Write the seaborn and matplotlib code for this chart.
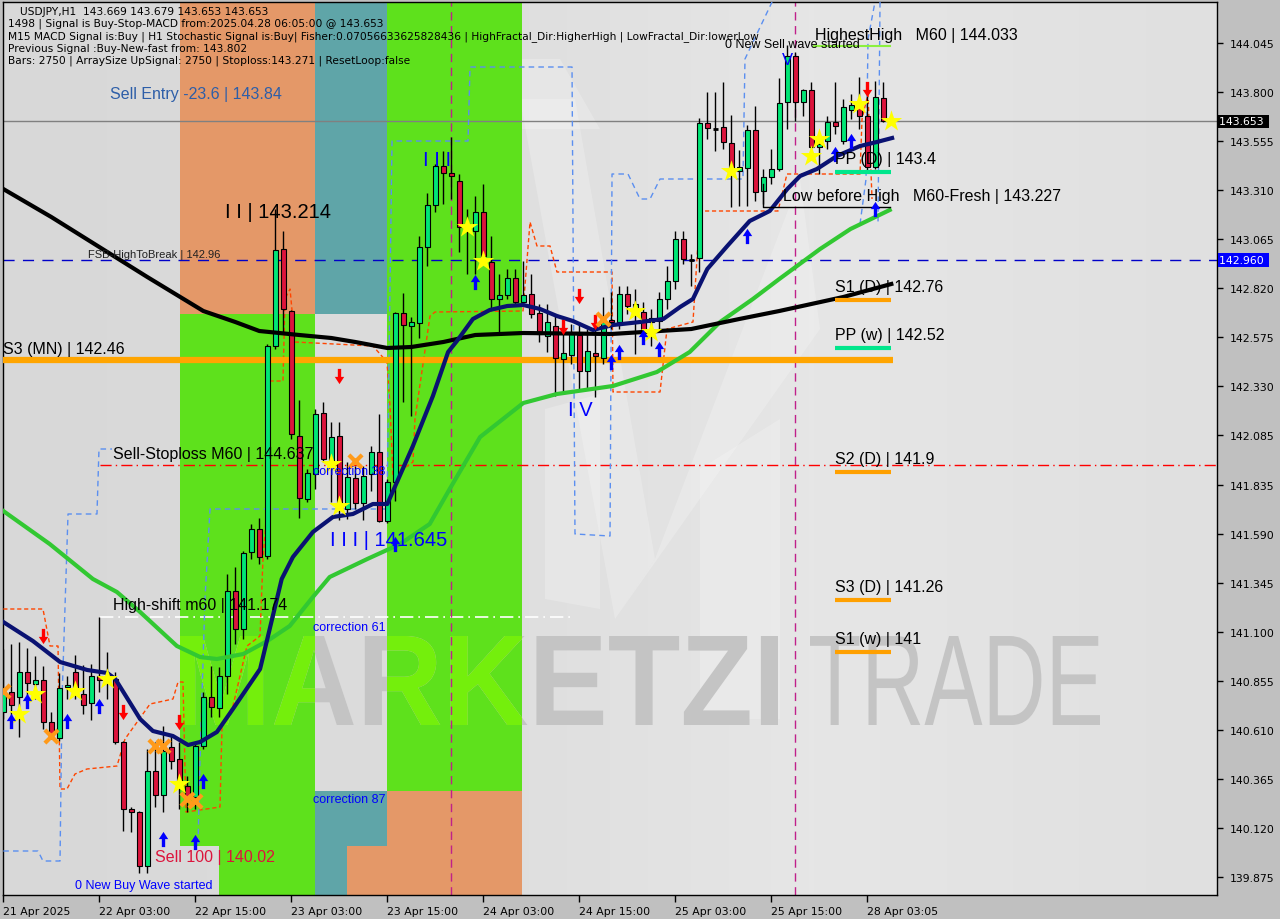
import numpy as np
import matplotlib
matplotlib.use("Agg")
import matplotlib.pyplot as plt
import seaborn as sns
from matplotlib.path import Path
from matplotlib.patches import Rectangle, Polygon, PathPatch
from matplotlib.colors import LinearSegmentedColormap
from matplotlib.textpath import TextPath
from matplotlib.font_manager import FontProperties
import matplotlib.transforms as mtrans

# ------------------------------------------------------------------ DATA
bar_open = [140.700, 140.800, 140.775, 140.900, 140.840, 140.860, 140.650, 140.570, 140.825, 140.900,
            140.790, 140.745, 140.880, 140.875, 140.865, 140.550, 140.215, 140.200, 139.930, 140.405,
            140.285, 140.525, 140.465, 140.330, 140.275, 140.530, 140.775, 140.720, 140.880, 141.305,
            141.115, 141.500, 141.615, 141.480, 142.530, 143.015, 142.705, 142.080, 141.765, 141.890,
            142.195, 141.950, 142.080, 141.715, 141.870, 141.745, 141.890, 142.000, 141.655, 141.850,
            142.695, 142.630, 142.645, 143.025, 143.235, 143.430, 143.395, 143.355, 143.140, 143.105,
            143.200, 142.950, 142.765, 142.785, 142.870, 142.750, 142.790, 142.695, 142.580, 142.630,
            142.465, 142.485, 142.585, 142.405, 142.495, 142.470, 142.660, 142.650, 142.790, 142.705,
            142.700, 142.650, 142.655, 142.765, 142.855, 143.065, 142.962, 142.970, 143.645, 143.619,
            143.625, 143.545, 143.405, 143.420, 143.610, 143.305, 143.375, 143.415, 143.750, 143.980,
            143.750, 143.810, 143.525, 143.555, 143.650, 143.555, 143.710, 143.750, 143.680, 143.425,
            143.770]
bar_high = [141.015, 141.040, 141.050, 141.020, 140.980, 140.930, 140.700, 140.895, 140.880, 140.985,
            140.935, 140.940, 141.175, 141.000, 140.900, 140.555, 140.225, 140.205, 140.515, 140.550,
            140.630, 140.580, 140.550, 140.380, 140.550, 140.800, 140.930, 140.925, 141.390, 141.425,
            141.505, 141.640, 141.670, 142.540, 143.214, 143.105, 142.710, 142.260, 141.915, 142.215,
            142.250, 142.150, 142.150, 141.950, 141.930, 141.930, 142.030, 142.190, 141.865, 142.700,
            142.795, 142.675, 143.080, 143.295, 143.440, 143.505, 143.575, 143.390, 143.215, 143.280,
            143.340, 143.080, 142.890, 142.915, 142.915, 142.955, 142.890, 142.740, 142.740, 142.680,
            142.630, 142.640, 142.650, 142.615, 142.640, 142.775, 142.800, 142.830, 142.830, 142.815,
            142.750, 142.715, 142.800, 142.930, 143.105, 143.105, 142.990, 143.670, 143.800, 143.800,
            143.850, 143.685, 143.510, 143.635, 143.730, 143.415, 143.515, 143.870, 144.033, 144.000,
            143.815, 143.850, 143.590, 143.680, 143.850, 143.765, 143.790, 143.875, 143.780, 143.855,
            143.850]
bar_low = [140.665, 140.630, 140.575, 140.780, 140.765, 140.615, 140.565, 140.555, 140.765, 140.765,
           140.690, 140.660, 140.800, 140.765, 140.540, 140.105, 140.100, 139.895, 139.895, 140.225,
           140.200, 140.415, 140.215, 140.200, 140.215, 140.515, 140.675, 140.675, 140.790, 141.040,
           141.065, 141.465, 141.440, 141.465, 142.515, 142.600, 142.065, 141.670, 141.750, 141.815,
           141.950, 141.750, 141.660, 141.665, 141.715, 141.660, 141.805, 141.650, 141.645, 141.755,
           142.250, 142.180, 142.570, 142.930, 143.200, 143.240, 143.265, 143.000, 142.890, 142.890,
           142.955, 142.715, 142.600, 142.765, 142.740, 142.740, 142.670, 142.550, 142.500, 142.280,
           142.300, 142.440, 142.315, 142.315, 142.275, 142.440, 142.615, 142.615, 142.690, 142.490,
           142.565, 142.530, 142.615, 142.715, 142.815, 142.940, 142.830, 142.900, 143.565, 143.505,
           143.515, 143.225, 143.230, 143.230, 143.255, 143.240, 143.340, 143.405, 143.615, 143.655,
           143.680, 143.505, 143.390, 143.515, 143.590, 143.540, 143.665, 143.615, 143.400, 143.415,
           143.650]
bar_close = [140.800, 140.735, 140.900, 140.845, 140.860, 140.650, 140.590, 140.820, 140.835, 140.815,
             140.735, 140.880, 140.860, 140.865, 140.550, 140.215, 140.200, 139.930, 140.405, 140.285,
             140.505, 140.455, 140.330, 140.275, 140.530, 140.775, 140.725, 140.880, 141.305, 141.115,
             141.495, 141.615, 141.475, 142.530, 143.010, 142.715, 142.090, 141.770, 141.895, 142.190,
             141.965, 142.075, 141.715, 141.875, 141.745, 141.880, 142.000, 141.655, 141.850, 142.695,
             142.635, 142.650, 143.025, 143.235, 143.430, 143.395, 143.380, 143.125, 143.115, 143.200,
             142.980, 142.765, 142.785, 142.870, 142.750, 142.785, 142.690, 142.590, 142.650, 142.470,
             142.495, 142.590, 142.405, 142.505, 142.480, 142.650, 142.650, 142.790, 142.730, 142.740,
             142.600, 142.670, 142.765, 142.855, 143.065, 142.965, 142.960, 143.645, 143.620, 143.616,
             143.550, 143.415, 143.425, 143.610, 143.300, 143.375, 143.415, 143.745, 143.980, 143.750,
             143.810, 143.525, 143.540, 143.650, 143.630, 143.725, 143.735, 143.680, 143.425, 143.775,
             143.653]

x_tick_bars = [0, 12, 24, 36, 48, 60, 72, 84, 96, 108]
x_tick_labels = ["21 Apr 2025", "22 Apr 03:00", "22 Apr 15:00", "23 Apr 03:00", "23 Apr 15:00",
                 "24 Apr 03:00", "24 Apr 15:00", "25 Apr 03:00", "25 Apr 15:00", "28 Apr 03:05"]
y_ticks = [144.045, 143.800, 143.555, 143.310, 143.065, 142.820, 142.575, 142.330, 142.085,
           141.835, 141.590, 141.345, 141.100, 140.855, 140.610, 140.365, 140.120, 139.875]
y_tick_labels = ["144.045", "143.800", "143.555", "143.310", "143.065", "142.820", "142.575",
                 "142.330", "142.085", "141.835", "141.590", "141.345", "141.100", "140.855",
                 "140.610", "140.365", "140.120", "139.875"]

# moving averages (anchors: bar index, price)
ma_slow_bars = [0, 6, 12, 18, 25, 29, 32, 37, 41, 44, 48, 51, 55, 59, 65, 76, 86, 92, 97, 105, 111]
ma_slow_vals = [143.315, 143.175, 143.025, 142.875, 142.705, 142.650, 142.605, 142.585, 142.570,
                142.550, 142.520, 142.525, 142.550, 142.585, 142.595, 142.590, 142.615, 142.665,
                142.705, 142.775, 142.840]
ma_fast_bars = [0, 3.7, 7.1, 10.5, 13, 14, 17.1, 18.7, 21.2, 23.1, 24.6, 26.7, 28.7, 32.1, 34.8,
                36.2, 38.7, 41.2, 43.7, 46.2, 48, 51.2, 53.7, 55.6, 56.7, 58.7, 60.8, 63, 65, 67.1,
                69.2, 71.2, 73.7, 76.2, 79.6, 82.5, 84.6, 86.2, 88, 90.5, 93.3, 95.8, 98, 99.6,
                101.7, 104.2, 107.1, 109.2, 111.1]
ma_fast_vals = [141.150, 141.055, 140.950, 140.910, 140.895, 140.865, 140.665, 140.605, 140.580,
                140.535, 140.550, 140.600, 140.715, 140.915, 141.365, 141.475, 141.600, 141.675,
                141.690, 141.740, 141.740, 142.030, 142.280, 142.500, 142.555, 142.665, 142.710,
                142.730, 142.735, 142.715, 142.680, 142.655, 142.610, 142.635, 142.650, 142.665,
                142.725, 142.765, 142.915, 143.030, 143.155, 143.205, 143.315, 143.380, 143.415,
                143.480, 143.530, 143.550, 143.570]
ma_mid_bars = [0, 5.8, 11.2, 14.2, 17.1, 21.7, 24.6, 26.7, 30, 33, 35.8, 38.7, 40.8, 45.5, 49.6,
               53.3, 55.8, 59.6, 65, 69.2, 76.2, 81.7, 85.8, 89.6, 93.7, 97, 102.1, 105.9, 110.8]
ma_mid_vals = [141.705, 141.540, 141.365, 141.300, 141.200, 141.030, 140.975, 140.965, 140.990,
               141.055, 141.130, 141.275, 141.375, 141.465, 141.540, 141.640, 141.815, 142.075,
               142.245, 142.290, 142.330, 142.400, 142.500, 142.650, 142.765, 142.865, 143.015,
               143.115, 143.210]

# step channels (anchors)
red_step_bars = [0, 4.96, 5.84, 6.84, 7.09, 7.96, 8.96, 10.46, 14.21, 15.21, 18.34, 21.21, 21.84,
                 22.46, 22.84, 27.09, 27.34, 28.71, 30.46, 32.09, 32.46, 32.96, 33.34, 34.96, 35.21,
                 35.84, 36.46, 46.21, 47.96, 48.34, 48.71, 51.21, 51.46, 53.34, 53.96, 64.96, 65.84,
                 66.71, 68.34, 69.21, 76.09, 76.21, 82.09, 82.96, 86.21, 87.09, 96.84, 97.96, 107.09,
                 107.34, 108.09, 108.59]
red_step_vals = [141.215, 141.215, 141.030, 141.030, 140.315, 140.315, 140.390, 140.415, 140.430,
                 140.565, 140.740, 140.765, 140.850, 140.850, 140.200, 140.225, 140.630, 140.730,
                 141.030, 141.080, 141.465, 141.715, 142.355, 142.355, 142.765, 142.815, 142.550,
                 142.530, 142.450, 142.230, 141.880, 141.950, 142.165, 142.680, 142.700, 142.705,
                 143.150, 143.030, 143.030, 142.900, 142.900, 142.300, 142.300, 142.615, 142.650,
                 143.205, 143.205, 143.390, 143.390, 143.665, 143.790, 143.265]
blue_step1_bars = [0, 4.34, 4.96, 7.09, 7.34, 8.09, 11.71, 11.96, 13.59]
blue_step1_vals = [140.005, 140.005, 139.955, 139.955, 140.765, 141.690, 141.690, 142.015, 142.015]
blue_step2_bars = [24.34, 24.59, 25.21, 25.84, 47.96, 48.59, 58.09, 58.34, 71.09, 71.46, 75.84, 76.09,
                   78.09, 79.59, 80.84, 82.09, 92.46, 92.71, 96.09]
blue_step2_vals = [140.040, 140.465, 141.265, 141.715, 141.715, 143.555, 143.555, 143.925, 143.925,
                   141.590, 141.580, 143.390, 143.390, 143.265, 143.265, 143.365, 143.365, 143.965,
                   144.250]
blue_step3_bars = [107.09, 107.84, 108.09, 108.96]
blue_step3_vals = [143.140, 143.365, 144.065, 144.250]
blue_step4_bars = [109.59, 109.34]
blue_step4_vals = [144.250, 143.140]

# signal markers
star_bars = [2, 4, 9, 13, 22, 41, 42, 58, 60, 79, 81, 91, 101, 102, 107, 111]
star_vals = [140.690, 140.790, 140.805, 140.865, 140.340, 141.940, 141.730, 143.125, 142.955,
             142.705, 142.600, 143.405, 143.480, 143.565, 143.740, 143.655]
up_bars = [1, 3, 8, 12, 20, 24, 25, 49, 59, 76, 77, 80, 82, 93, 104, 106, 109]
up_vals = [140.655, 140.755, 140.655, 140.730, 140.065, 140.050, 140.355, 141.540, 142.850,
           142.450, 142.500, 142.575, 142.515, 143.080, 143.490, 143.555, 143.215]
down_bars = [5, 15, 22, 42, 70, 72, 74, 108]
down_vals = [141.080, 140.700, 140.650, 142.380, 142.625, 142.780, 142.650, 143.815]
cross_bars = [0, 6, 19, 20, 23, 24, 44, 75]
cross_vals = [140.805, 140.580, 140.530, 140.530, 140.265, 140.255, 141.955, 142.665]

# levels
lvl_s3_mn = 142.46
lvl_fsb = 142.96
lvl_last = 143.653
lvl_stop = 141.935
lvl_highshift = 141.174
pivot_names = ["PP (D) | 143.4", "S1 (D) | 142.76", "PP (w) | 142.52", "S2 (D) | 141.9",
               "S3 (D) | 141.26", "S1 (w) | 141"]
pivot_vals = [143.4, 142.76, 142.52, 141.9, 141.26, 141.0]
pivot_colors = ["#00e68c", "#ffa000", "#00e68c", "#ffa000", "#ffa000", "#ffa000"]

# ------------------------------------------------------------------ LAYOUT HELPERS
W, H = 1280, 920

def bx(px):
    return (px - 3.3) / 8.0

def py(ypx):
    return 144.265 - ypx / 200.0

fig = plt.figure(figsize=(12.8, 9.2), dpi=100, facecolor="#c0c0c0")
ax = fig.add_axes([3 / W, 24 / H, 1214 / W, 893 / H])
XL = (bx(3), bx(1217))
YL = (py(896), py(3))

# background gradient
grad = np.linspace(0, 1, 256).reshape(1, -1)
cmap_bg = LinearSegmentedColormap.from_list("bg", ["#d8d8d8", "#dcdcdc", "#e6e6e6", "#e0e0e0"])
ax.imshow(grad, extent=[XL[0], XL[1], YL[0], YL[1]], aspect="auto", cmap=cmap_bg, zorder=0)

# light logo shapes
for poly in [[(520, 100), (575, 100), (655, 560), (615, 620)],
             [(615, 620), (655, 560), (800, 180), (820, 330)],
             [(545, 410), (600, 395), (600, 610), (545, 600)],
             [(700, 470), (780, 420), (780, 720), (700, 720)],
             [(430, 60), (560, 60), (600, 130), (470, 130)]]:
    ax.add_patch(Polygon([(bx(a), py(b)) for a, b in poly], closed=True,
                         facecolor="white", edgecolor="none", alpha=0.22, zorder=0.5))

SALMON = "#e49868"
GREEN = "#5ee11c"
TEAL = "#5fa5a8"

def rect(x0, y0, x1, y1, color, z=1):
    r = Rectangle((bx(x0), py(y1)), bx(x1) - bx(x0), py(y0) - py(y1),
                  facecolor=color, edgecolor="none", zorder=z)
    ax.add_patch(r)
    return r

rect(180, 3, 315, 315, SALMON)
g1 = rect(180, 315, 315, 847, GREEN)
g1b = rect(219, 847, 315, 896, GREEN)
rect(315, 3, 387, 315, TEAL)
rect(315, 792, 387, 896, TEAL)
rect(387, 792, 522, 896, SALMON)
rect(347, 847, 387, 896, SALMON)
g2 = rect(387, 3, 522, 792, GREEN)

# watermark, fitted into its pixel box
def fitted_text(s, fp, x0, x1, ytop, ybot, color, clip=None, z=1.5):
    tp = TextPath((0, 0), s, size=100, prop=fp)
    ext = tp.get_extents()
    sx = (x1 - x0) / ext.width
    sy = (ybot - ytop) / ext.height
    tr = (mtrans.Affine2D().translate(-ext.x0, -ext.y0).scale(sx, sy)
          .translate(x0, H - ybot))
    p = PathPatch(tp, transform=tr, facecolor=color, edgecolor="none", zorder=z)
    ax.add_patch(p)
    if clip is not None:
        p.set_clip_path(clip)
    return p

fp_bold = FontProperties(family="Liberation Sans", weight="bold")
fp_reg = FontProperties(family="Liberation Sans", weight="normal")
fitted_text("MARKETZI", fp_bold, 180, 778, 637, 726, "#c4c4c4")
for gp in (g1, g2):
    fitted_text("MARKETZI", fp_bold, 180, 778, 637, 726, "#74ef0c", clip=gp, z=1.6)
fitted_text("TRADE", fp_reg, 810, 1100, 637, 726, "#c4c4c4")

# horizontal levels
ax.axhline(lvl_last, color="#808080", lw=1, zorder=2)
ax.axhline(lvl_fsb, color="#0000c8", lw=1, ls=(0, (8, 6)), zorder=2)
ax.plot([bx(100), XL[1]], [lvl_stop, lvl_stop], color="red", lw=1, ls=(0, (8, 3, 1, 3)), zorder=2)
ax.plot([bx(100), bx(575)], [lvl_highshift, lvl_highshift], color="white", lw=1.2,
        ls=(0, (8, 3, 1, 3)), zorder=2)
ax.plot([bx(3), bx(893)], [lvl_s3_mn, lvl_s3_mn], color="#ffa500", lw=4.5, zorder=4,
        solid_capstyle="butt")
for xv in (bx(451), bx(795)):
    ax.axvline(xv, color="#c0208a", lw=1, ls=(0, (6, 4)), zorder=2)

# step channels
sns.lineplot(x=red_step_bars, y=red_step_vals, sort=False, color="#ff4500", lw=1,
             linestyle=(0, (3, 2)), ax=ax, zorder=3, legend=False)
for bb, vv in [(blue_step1_bars, blue_step1_vals), (blue_step2_bars, blue_step2_vals),
               (blue_step3_bars, blue_step3_vals), (blue_step4_bars, blue_step4_vals)]:
    sns.lineplot(x=bb, y=vv, sort=False, color="#5b8ff0", lw=1, linestyle=(0, (4, 3)),
                 ax=ax, zorder=3, legend=False)

# candles
for i, (o, h, l, c) in enumerate(zip(bar_open, bar_high, bar_low, bar_close)):
    ax.vlines(i, l, h, color="black", lw=1, zorder=5)
    if abs(c - o) < 0.006:
        ax.hlines((o + c) / 2, i - 0.3, i + 0.3, color="black", lw=2, zorder=6)
        continue
    col = "#00e676" if c > o else "#dc143c"
    ax.add_patch(Rectangle((i - 0.3, min(o, c)), 0.6, abs(c - o), facecolor=col,
                           edgecolor="black", lw=0.8, zorder=6))

# moving averages
sns.lineplot(x=ma_mid_bars, y=ma_mid_vals, color="#32c832", lw=3, ax=ax, zorder=7, legend=False)
sns.lineplot(x=ma_slow_bars, y=ma_slow_vals, color="#000000", lw=3, ax=ax, zorder=7, legend=False)
sns.lineplot(x=ma_fast_bars, y=ma_fast_vals, color="#0a1272", lw=3, ax=ax, zorder=7, legend=False)

# markers
up_path = Path([(-0.22, -1), (0.22, -1), (0.22, 0.05), (0.62, 0.05), (0, 1), (-0.62, 0.05),
                (-0.22, 0.05), (-0.22, -1)],
               [Path.MOVETO] + [Path.LINETO] * 6 + [Path.CLOSEPOLY])
down_path = Path([(x, -y) for x, y in up_path.vertices], up_path.codes)
sns.scatterplot(x=star_bars, y=star_vals, marker="*", s=260, color="#ffff00", linewidth=0,
                ax=ax, zorder=9, legend=False)
sns.scatterplot(x=up_bars, y=up_vals, marker=up_path, s=120, color="#0000ff", linewidth=0,
                ax=ax, zorder=9, legend=False)
sns.scatterplot(x=down_bars, y=down_vals, marker=down_path, s=120, color="#ff0000", linewidth=0,
                ax=ax, zorder=9, legend=False)
sns.scatterplot(x=cross_bars, y=cross_vals, marker="x", s=90, color="#ff9a1a", linewidth=3,
                ax=ax, zorder=9, legend=False)

# pivot labels and underlines
for name, val, col in zip(pivot_names, pivot_vals, pivot_colors):
    yl = py(44 + (144.045 - val) * 200 - 14)
    ax.text(bx(835), yl, name, fontsize=11.5, family="Liberation Sans", color="black",
            ha="left", va="center", zorder=10)
    ax.plot([bx(835), bx(891)], [val, val], color=col, lw=3, zorder=8, solid_capstyle="butt")

# misc lines
ax.plot([bx(814), bx(890)], [py(47), py(47)], color="#8cf040", lw=1.5, zorder=8)
ax.plot([bx(763), bx(763), bx(890)], [py(185), py(208), py(208)], color="black", lw=1, zorder=8)

# texts
LS = "Liberation Sans"
labels = [
    (110, 94, "Sell Entry -23.6 | 143.84", "#2d5ea8", 11.5, LS),
    (225, 212, "I I | 143.214", "black", 14.5, LS),
    (88, 255, "FSB-HighToBreak | 142.96", "#202020", 8, LS),
    (3, 349, "S3 (MN) | 142.46", "black", 11.5, LS),
    (113, 454, "Sell-Stoploss M60 | 144.637", "black", 11.5, LS),
    (313, 472, "correction 38", "#0000ff", 9, LS),
    (330, 540, "I I I | 141.645", "#0000ff", 14.5, LS),
    (113, 605, "High-shift m60 | 141.174", "black", 11.5, LS),
    (313, 628, "correction 61", "#0000ff", 9, LS),
    (313, 800, "correction 87", "#0000ff", 9, LS),
    (155, 857, "Sell 100 | 140.02", "#dc143c", 11.5, LS),
    (75, 886, "0 New Buy Wave started", "#0000ff", 9, LS),
    (568, 410, "I V", "#0000ff", 14.5, LS),
    (423, 160, "I I I", "#0000ff", 14.5, LS),
    (782, 60, "V", "#0000ff", 12, LS),
    (725, 45, "0 New Sell wave started", "black", 9, LS),
    (815, 35, "HighestHigh   M60 | 144.033", "black", 11.5, LS),
    (783, 196, "Low before High   M60-Fresh | 143.227", "black", 11.5, LS),
]
for x0, y0, s, c, fs, fam in labels:
    ax.text(bx(x0), py(y0), s, color=c, fontsize=fs, family=fam, ha="left", va="center",
            zorder=10)

header = [
    (20, "USDJPY,H1  143.669 143.679 143.653 143.653"),
    (8, "1498 | Signal is Buy-Stop-MACD from:2025.04.28 06:05:00 @ 143.653"),
    (8, "M15 MACD Signal is:Buy | H1 Stochastic Signal is:Buy| Fisher:0.07056633625828436 | "
        "HighFractal_Dir:HigherHigh | LowFractal_Dir:lowerLow"),
    (8, "Previous Signal :Buy-New-fast from: 143.802"),
    (8, "Bars: 2750 | ArraySize UpSignal: 2750 | Stoploss:143.271 | ResetLoop:false"),
]
for k, (x0, s) in enumerate(header):
    ax.text(bx(x0), py(12 + 12.2 * k), s, fontsize=7.7, family="DejaVu Sans", color="black",
            ha="left", va="center", zorder=11)

# axes
ax.set_xlim(*XL)
ax.set_ylim(*YL)
ax.yaxis.tick_right()
ax.set_yticks(y_ticks)
ax.set_yticklabels(y_tick_labels)
ax.set_xticks(x_tick_bars)
ax.set_xticklabels(x_tick_labels)
for lb in ax.get_xticklabels():
    lb.set_horizontalalignment("left")
ax.tick_params(axis="y", labelsize=7.8, length=4, width=1, pad=5, colors="black")
ax.tick_params(axis="x", labelsize=7.8, length=5, width=1, pad=3, colors="black")
for sp in ax.spines.values():
    sp.set_color("black")
    sp.set_linewidth(1)
ax.set_xlabel("")
ax.set_ylabel("")

trans = mtrans.blended_transform_factory(ax.transAxes, ax.transData)
ax.text(1.0018, lvl_last, "143.653 ", transform=trans, fontsize=7.8, color="white", va="center",
        ha="left", bbox=dict(boxstyle="square,pad=0.15", facecolor="black", edgecolor="none"),
        zorder=12, clip_on=False)
ax.text(1.0018, lvl_fsb, "142.960 ", transform=trans, fontsize=7.8, color="white", va="center",
        ha="left", bbox=dict(boxstyle="square,pad=0.15", facecolor="#0000ff", edgecolor="none"),
        zorder=12, clip_on=False)

fig.savefig("out.png", dpi=100, facecolor=fig.get_facecolor())
